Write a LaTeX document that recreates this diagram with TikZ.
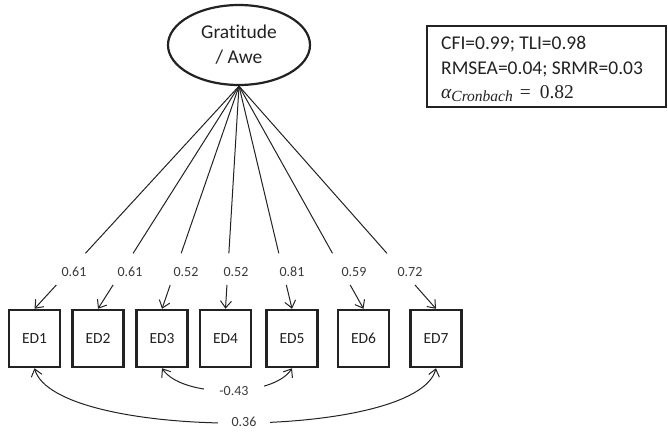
\documentclass[tikz,border=0pt]{standalone}
\usepackage{fontspec}
\setmainfont{Carlito}[Ligatures={CommonOff,RareOff}]
\newfontfamily\formulafont{Liberation Serif}
\usetikzlibrary{arrows.meta,shapes.geometric}
\definecolor{ink}{HTML}{222222}
\definecolor{numtext}{HTML}{3A3A3A}
\begin{document}
\begin{tikzpicture}[x=1pt,y=-1pt,
  latent/.style={ellipse,draw=ink,line width=2.2pt,minimum width=142pt,minimum height=80pt,
    inner sep=0pt,align=center,font=\fontsize{19.5}{25}\selectfont,text=ink},
  indicator/.style={rectangle,draw=ink,line width=2.5pt,minimum width=51pt,minimum height=57pt,
    inner sep=0pt,font=\fontsize{15.5}{18}\selectfont,text=ink},
  fitbox/.style={rectangle,draw=ink,line width=2pt,minimum width=239pt,minimum height=81pt,inner sep=0pt},
  fittext/.style={inner sep=0pt,align=left,font=\fontsize{19.5}{24.5}\selectfont,text=ink},
  loadnum/.style={inner sep=1pt,font=\fontsize{14}{16}\selectfont,text=numtext},
  covnum/.style={fill=white,inner sep=1pt,font=\fontsize{14}{16}\selectfont,text=numtext},
  tip/.style={-{Straight Barb[length=7pt,width=11pt,line width=1pt]}},
  bitip/.style={{Straight Barb[length=7pt,width=11pt,line width=1pt]}-{Straight Barb[length=7pt,width=11pt,line width=1pt]}},
  path/.style={draw=ink,line width=1pt}]
\useasboundingbox (0,0) rectangle (668,431);

% latent factor
\node[latent] (F) at (239,45) {Gratitude\\/ Awe};

% model fit summary
\node[fitbox] (fit) at (546.5,66.5) {};
\node[fittext,anchor=west] (fitlines) at (441,69) {CFI=0.99; TLI=0.98\\RMSEA=0.04; SRMR=0.03\\
  {\formulafont\itshape α\raisebox{-0.35ex}{\fontsize{15.5}{15.5}\selectfont Cronbach}}%
  \hspace{7pt}{\formulafont =\hspace{9pt}0.82}};

% observed indicators
\foreach \i/\x in {1/34.5,2/98,3/162,4/225.5,5/292,6/363.5,7/436}
  \node[indicator] (ED\i) at (\x,338.5) {ED\i};

% factor loadings: each path is broken where its value is printed
\foreach \i/\lx/\v in {1/74/0.61,2/130/0.61,3/186/0.52,4/236/0.52,5/292/0.81,6/354/0.59,7/410/0.72}{
  \path (F.south) -- (ED\i.north) coordinate[pos=0.751] (u\i) coordinate[pos=0.893] (l\i);
  \draw[path] (F.south) -- (u\i);
  \draw[path,tip] (l\i) -- (ED\i.north);
  \node[loadnum] (n\i) at (\lx,272) {\v};
}

% residual covariances
\draw[path,bitip] (ED3.south) .. controls (182,398) and (273,398) .. (ED5.south);
\node[covnum,inner xsep=15pt] (c35) at (234,391) {-0.43};
\draw[path,bitip] (ED1.south) .. controls (55,441) and (417,441) .. (ED7.south);
\node[covnum,inner xsep=14pt] (c17) at (244,422) {0.36};
\end{tikzpicture}
\end{document}
